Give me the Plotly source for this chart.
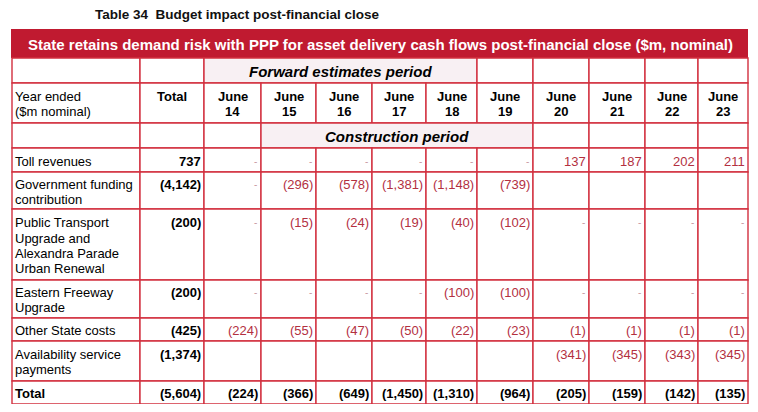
import plotly.graph_objects as go

# ---------------- data ----------------
title_text = "Table 34  Budget impact post-financial close"
header_text = "State retains demand risk with PPP for asset delivery cash flows post-financial close ($m, nominal)"
period_forward = "Forward estimates period"
period_construction = "Construction period"
stub_header = ["Year ended", "($m nominal)"]
total_header = "Total"
years = ["14", "15", "16", "17", "18", "19", "20", "21", "22", "23"]

row_labels = [
    ["Toll revenues"],
    ["Government funding", "contribution"],
    ["Public Transport", "Upgrade and", "Alexandra Parade", "Urban Renewal"],
    ["Eastern Freeway", "Upgrade"],
    ["Other State costs"],
    ["Availability service", "payments"],
]
row_totals = [737, -4142, -200, -200, -425, -1374]
# 0 -> "-", None -> blank
toll_revenues = [0, 0, 0, 0, 0, 0, 137, 187, 202, 211]
government_funding = [0, -296, -578, -1381, -1148, -739, None, None, None, None]
public_transport = [0, -15, -24, -19, -40, -102, 0, 0, 0, 0]
eastern_freeway = [0, 0, 0, 0, -100, -100, 0, 0, 0, 0]
other_state_costs = [-224, -55, -47, -50, -22, -23, -1, -1, -1, -1]
availability_payments = [None, None, None, None, None, None, -341, -345, -343, -345]
row_values = [toll_revenues, government_funding, public_transport,
              eastern_freeway, other_state_costs, availability_payments]
total_label = "Total"
grand_total = -5604
year_totals = [-224, -366, -649, -1450, -1310, -964, -205, -159, -142, -135]

# ---------------- layout constants ----------------
W, H = 758, 412
PAGE_MARGIN = 8  # browser body margin around the figure div
col_edges = [12, 140, 204, 261, 316, 372, 426, 477, 533, 589, 645, 698, 748]
header_y = (29, 58)
forward_y = (58, 83)
year_y = (83, 123)
constr_y = (123, 148)
data_row_edges = [148, 172, 209, 280, 318, 341, 381]
total_y = (381, 404)
LINE_SPACING = 15.2
RED_LINE = "#d2303f"
HEADER_FILL = "#c01a30"
NUM_RED = "#b3303f"
DASH_COL = "#c79aa3"
PERIOD_FILL = "#f8f0f3"
FONT = "Liberation Sans, Arial, sans-serif"
FS = 13


def fmt(v):
    if v is None:
        return ""
    if v == 0:
        return "-"
    if v < 0:
        return "({:,})".format(-v)
    return "{:,}".format(v)


shapes = []
annotations = []


def cell(x0, x1, y0, y1, fill="white"):
    shapes.append(dict(type="rect", x0=x0, x1=x1, y0=y0, y1=y1, xref="x", yref="y",
                       fillcolor=fill, line=dict(color=RED_LINE, width=1.4), layer="below"))


def text(x, y, s, anchor="left", size=FS, color="black", bold=False, italic=False):
    if s == "":
        return
    t = s
    if bold:
        t = "<b>" + t + "</b>"
    if italic:
        t = "<i>" + t + "</i>"
    annotations.append(dict(x=x, y=y, xref="x", yref="y", text=t, showarrow=False,
                            xanchor=anchor, yanchor="middle", borderpad=0, borderwidth=0,
                            font=dict(family=FONT, size=size, color=color)))


def line_centers(y0, y1, n):
    c = (y0 + y1) / 2 + 1.2
    return [c + (i - (n - 1) / 2) * LINE_SPACING for i in range(n)]


def value_text(col, y, v, bold=False):
    x_right = col_edges[col + 1] - 3
    s = fmt(v)
    if s == "-":
        text(x_right - 1, y, "-", anchor="right", size=10, color=DASH_COL)
    elif bold:
        text(x_right, y, s, anchor="right", bold=True)
    else:
        text(x_right, y, s, anchor="right", color=NUM_RED)


# title
text(95, 14, title_text, size=13.5, bold=True, color="#111111")

# red header band
shapes.append(dict(type="rect", x0=col_edges[0] - 1, x1=col_edges[-1], y0=header_y[0], y1=header_y[1],
                   xref="x", yref="y", fillcolor=HEADER_FILL, line=dict(width=0), layer="below"))
text((col_edges[0] + col_edges[-1]) / 2, (header_y[0] + header_y[1]) / 2 + 0.5,
     header_text, anchor="center", size=15, color="white", bold=True)

# forward estimates row
cell(col_edges[0], col_edges[1], *forward_y)
cell(col_edges[1], col_edges[2], *forward_y)
cell(col_edges[2], col_edges[7], *forward_y, fill=PERIOD_FILL)
for c in range(7, 12):
    cell(col_edges[c], col_edges[c + 1], *forward_y)
text((col_edges[2] + col_edges[7]) / 2, (forward_y[0] + forward_y[1]) / 2 + 0.5,
     period_forward, anchor="center", size=15, bold=True, italic=True)

# year header row
for c in range(12):
    cell(col_edges[c], col_edges[c + 1], *year_y)
ys = line_centers(*year_y, 2)
for i, s in enumerate(stub_header):
    text(col_edges[0] + 3, ys[i], s)
text((col_edges[1] + col_edges[2]) / 2, ys[0], total_header, anchor="center", bold=True)
for j, yr in enumerate(years):
    cx = (col_edges[j + 2] + col_edges[j + 3]) / 2
    text(cx, ys[0], "June", anchor="center", bold=True)
    text(cx, ys[1], yr, anchor="center", bold=True)

# construction period row
cell(col_edges[0], col_edges[1], *constr_y)
cell(col_edges[1], col_edges[2], *constr_y)
cell(col_edges[2], col_edges[3], *constr_y)
cell(col_edges[3], col_edges[8], *constr_y, fill=PERIOD_FILL)
for c in range(8, 12):
    cell(col_edges[c], col_edges[c + 1], *constr_y)
text((col_edges[3] + col_edges[8]) / 2, (constr_y[0] + constr_y[1]) / 2 + 0.5,
     period_construction, anchor="center", size=15, bold=True, italic=True)

# data rows
for r, labels in enumerate(row_labels):
    y0, y1 = data_row_edges[r], data_row_edges[r + 1]
    for c in range(12):
        cell(col_edges[c], col_edges[c + 1], y0, y1)
    ys = line_centers(y0, y1, len(labels))
    for i, s in enumerate(labels):
        text(col_edges[0] + 3, ys[i], s)
    value_text(1, ys[0], row_totals[r], bold=True)
    for j, v in enumerate(row_values[r]):
        value_text(j + 2, ys[0], v)

# total row
for c in range(12):
    cell(col_edges[c], col_edges[c + 1], *total_y)
ty = line_centers(*total_y, 1)[0]
text(col_edges[0] + 3, ty, total_label, bold=True)
value_text(1, ty, grand_total, bold=True)
for j, v in enumerate(year_totals):
    value_text(j + 2, ty, v, bold=True)

fig = go.Figure()
fig.update_layout(
    width=W - 2 * PAGE_MARGIN, height=H - 2 * PAGE_MARGIN,
    margin=dict(l=0, r=0, t=0, b=0),
    paper_bgcolor="white", plot_bgcolor="white",
    xaxis=dict(range=[PAGE_MARGIN, W - PAGE_MARGIN], visible=False, fixedrange=True),
    yaxis=dict(range=[H - PAGE_MARGIN, PAGE_MARGIN], visible=False, fixedrange=True),
    shapes=shapes, annotations=annotations, showlegend=False,
)
fig.write_html("out.html")
